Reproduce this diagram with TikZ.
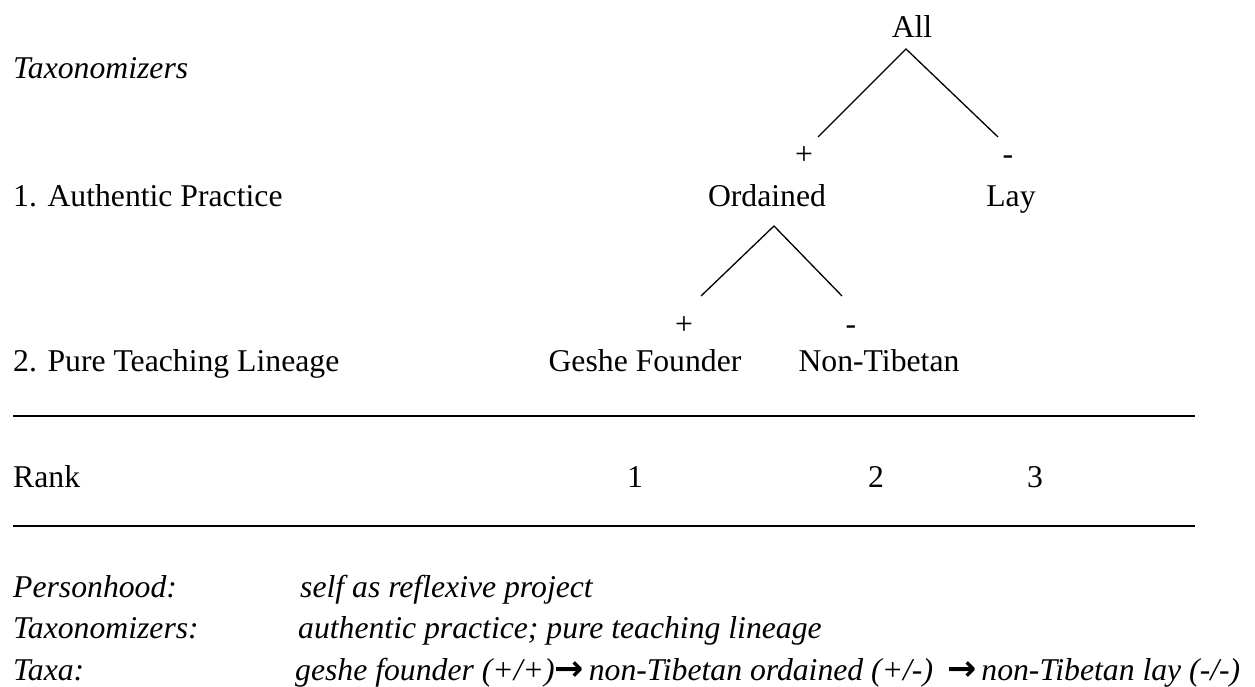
\documentclass[tikz,border=0pt]{standalone}
\usepackage{fontspec}
\setmainfont{Liberation Serif}
\newfontfamily\arrowfont{DejaVu Sans}
\newcommand{\bigarr}{\smash{\upshape\arrowfont\bfseries\fontsize{35}{35}\selectfont →}}
\begin{document}
\begin{tikzpicture}[x=1pt,y=-1pt,
  txt/.style={inner sep=0pt, font=\fontsize{31.7}{38}\selectfont},
  lft/.style={txt, anchor=base west},
  ctr/.style={txt, anchor=base},
  branch/.style={line width=1.3pt},
  rule/.style={line width=1.5pt}]
\useasboundingbox (0,0) rectangle (1255,687);
% left labels
\node[lft] (tx) at (13,79) {\itshape Taxonomizers};
\node[lft] (ap) at (13,207) {1. Authentic Practice};
\node[lft] (ptl) at (13,371) {2. Pure Teaching Lineage};
\node[lft] (rank) at (13,487) {Rank};
% tree
\node[ctr] (all) at (912,38) {All};
\node[ctr] (p1) at (804,165) {+};
\node[ctr] (m1) at (1008,165) {-};
\node[ctr] (ord) at (767,207) {Ordained};
\node[ctr] (lay) at (1011,207) {Lay};
\node[ctr] (p2) at (684,334) {+};
\node[ctr] (m2) at (851,334) {-};
\node[ctr] (geshe) at (645,371) {Geshe Founder};
\node[ctr] (nont) at (879,371) {Non-Tibetan};
\coordinate (a1) at (906,49);
\coordinate (l1) at (818,137);
\coordinate (r1) at (998,137);
\coordinate (a2) at (774,226);
\coordinate (l2) at (701,296);
\coordinate (r2) at (842,296);
\draw[branch] (l1) -- (a1) -- (r1);
\draw[branch] (l2) -- (a2) -- (r2);
% rules
\coordinate (ra) at (13,416);
\coordinate (rb) at (1195,416);
\coordinate (rc) at (13,526);
\coordinate (rd) at (1195,526);
\draw[rule] (ra) -- (rb);
\draw[rule] (rc) -- (rd);
% ranks
\node[ctr] (k1) at (635,487) {1};
\node[ctr] (k2) at (876,487) {2};
\node[ctr] (k3) at (1035,487) {3};
% bottom
\node[lft] (ph) at (13,597) {\itshape Personhood:};
\node[lft] (phv) at (300,597) {\itshape self as reflexive project};
\node[lft] (tz) at (13,638) {\itshape Taxonomizers:};
\node[lft] (tzv) at (298,638) {\itshape authentic practice; pure teaching lineage};
\node[lft] (ta) at (13,680) {\itshape Taxa:};
\node[lft] (tav) at (295,680) {\itshape geshe founder (+/+)\bigarr\hspace{5pt}non-Tibetan ordained (+/-)\hspace{14pt}\bigarr\hspace{5pt}non-Tibetan lay (-/-)};
\end{tikzpicture}
\end{document}
